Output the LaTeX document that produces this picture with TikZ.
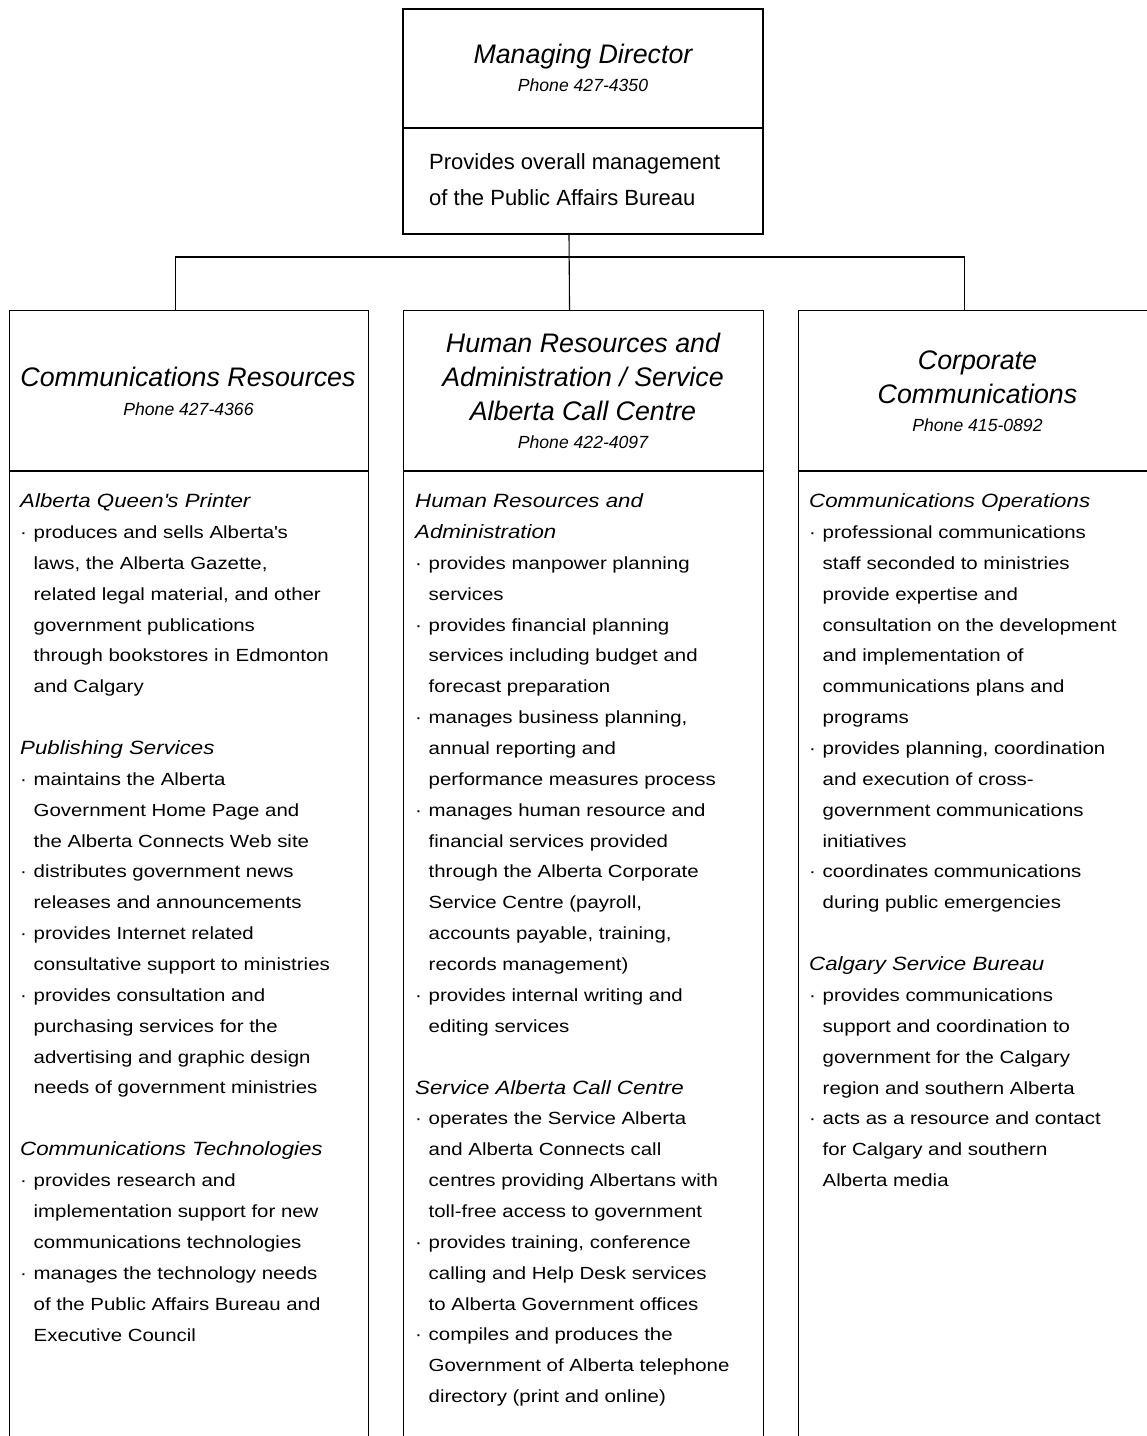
\documentclass[tikz,border=0pt]{standalone}
\usepackage{fontspec}
\setmainfont{Liberation Sans}
\newfontfamily\bodyfont{Liberation Sans}[FakeStretch=1.16]
\usepackage{tikz}

\newcommand{\bul}{\makebox[13.5pt][l]{\textperiodcentered}}
\newcommand{\ind}{\hspace*{13.5pt}}
\newcommand{\subhead}[1]{{\fontsize{19.2}{30.87}\selectfont\itshape #1}}

\begin{document}
\begin{tikzpicture}[x=1pt,y=-1pt,
  orgbox/.style={draw,line width=1.1pt,rectangle,inner sep=0pt},
  headtitle/.style={anchor=north,inner sep=0pt,align=center,font=\fontsize{26.8}{34.2}\selectfont\itshape},
  phoneline/.style={anchor=base,inner sep=0pt,font=\fontsize{17.6}{20}\selectfont\itshape},
  bodytext/.style={anchor=north west,inner sep=0pt,align=left,font=\bodyfont\fontsize{17.6}{30.87}\selectfont}]

  % Page and clipping
  \fill[white] (0,0) rectangle (1147,1436);
  \useasboundingbox (0,0) rectangle (1147,1436);
  \clip (0,0) rectangle (1147,1436);

  % Draw the top box
  \node[orgbox,minimum width=360,minimum height=225] (md) at (583,121.5) {};
  \coordinate (mdsplit) at (0,128);
  \draw[line width=1.1pt] (md.west |- mdsplit) -- (md.east |- mdsplit);

  \node[headtitle] (mdname) at (583,39.6) {\strut Managing Director};
  \node[phoneline] (mdphone) at (583,91.3) {Phone 427-4350};
  \node[anchor=north west,inner sep=0pt,align=left,font=\fontsize{22}{35.7}\selectfont] (mdtask) at (429,144.3)
    {\strut Provides overall management\\ of the Public Affairs Bureau};

  % Draw the three columns (open at the bottom)
  \node[orgbox,anchor=north west,minimum width=359,minimum height=1160] (comres) at (9,310) {};
  \node[orgbox,anchor=north west,minimum width=360,minimum height=1160] (hradm) at (403,310) {};
  \node[orgbox,anchor=north west,minimum width=359,minimum height=1160] (corcom) at (798,310) {};

  \coordinate (headsplit) at (0,471);
  \draw[line width=1.1pt] (comres.west |- headsplit) -- (comres.east |- headsplit);
  \draw[line width=1.1pt] (hradm.west |- headsplit) -- (hradm.east |- headsplit);
  \draw[line width=1.1pt] (corcom.west |- headsplit) -- (corcom.east |- headsplit);

  % Draw the connectors
  \coordinate (bus) at (569,257);
  \draw[line width=1.1pt] (md.south -| bus) -- ([xshift=-14pt]hradm.north);
  \draw[line width=1.1pt] ([xshift=-14pt]comres.north) |- (bus) -| ([xshift=-14pt]corcom.north);

  % Column headings
  \node[headtitle] (comrestitle) at (188,362.8) {\strut Communications Resources};
  \node[phoneline] (comresphone) at (188.5,415) {Phone 427-4366};

  \node[headtitle] (hradmtitle) at (583,328.4)
    {\strut Human Resources and\\ Administration / Service\\ Alberta Call Centre};
  \node[phoneline] (hradmphone) at (583,448.3) {Phone 422-4097};

  \node[headtitle] (corcomtitle) at (977.5,345.4) {\strut Corporate\\ Communications};
  \node[phoneline] (corcomphone) at (977.5,431.3) {Phone 415-0892};

  % Communications Resources
  \node[bodytext] (printer) at (20,485.7) {\strut\subhead{Alberta Queen\textquotesingle s Printer}\\
    \bul produces and sells Alberta\textquotesingle s\\
    \ind laws, the Alberta Gazette,\\
    \ind related legal material, and other\\
    \ind government publications\\
    \ind through bookstores in Edmonton\\
    \ind and Calgary};
  \node[bodytext] (publishing) at (20,732.6) {\strut\subhead{Publishing Services}\\
    \bul maintains the Alberta\\
    \ind Government Home Page and\\
    \ind the Alberta Connects Web site\\
    \bul distributes government news\\
    \ind releases and announcements\\
    \bul provides Internet related\\
    \ind consultative support to ministries\\
    \bul provides consultation and\\
    \ind purchasing services for the\\
    \ind advertising and graphic design\\
    \ind needs of government ministries};
  \node[bodytext] (technologies) at (20,1134) {\strut\subhead{Communications Technologies}\\
    \bul provides research and\\
    \ind implementation support for new\\
    \ind communications technologies\\
    \bul manages the technology needs\\
    \ind of the Public Affairs Bureau and\\
    \ind Executive Council};

  % Human Resources and Administration / Service Alberta Call Centre
  \node[bodytext] (hrservices) at (415,485.7) {\strut\subhead{Human Resources and}\\
    \subhead{Administration}\\
    \bul provides manpower planning\\
    \ind services\\
    \bul provides financial planning\\
    \ind services including budget and\\
    \ind forecast preparation\\
    \bul manages business planning,\\
    \ind annual reporting and\\
    \ind performance measures process\\
    \bul manages human resource and\\
    \ind financial services provided\\
    \ind through the Alberta Corporate\\
    \ind Service Centre (payroll,\\
    \ind accounts payable, training,\\
    \ind records management)\\
    \bul provides internal writing and\\
    \ind editing services};
  \node[bodytext] (callcentre) at (415,1072.2) {\strut\subhead{Service Alberta Call Centre}\\
    \bul operates the Service Alberta\\
    \ind and Alberta Connects call\\
    \ind centres providing Albertans with\\
    \ind toll-free access to government\\
    \bul provides training, conference\\
    \ind calling and Help Desk services\\
    \ind to Alberta Government offices\\
    \bul compiles and produces the\\
    \ind Government of Alberta telephone\\
    \ind directory (print and online)};

  % Corporate Communications
  \node[bodytext] (operations) at (809,485.7) {\strut\subhead{Communications Operations}\\
    \bul professional communications\\
    \ind staff seconded to ministries\\
    \ind provide expertise and\\
    \ind consultation on the development\\
    \ind and implementation of\\
    \ind communications plans and\\
    \ind programs\\
    \bul provides planning, coordination\\
    \ind and execution of cross-\\
    \ind government communications\\
    \ind initiatives\\
    \bul coordinates communications\\
    \ind during public emergencies};
  \node[bodytext] (calgary) at (809,948.7) {\strut\subhead{Calgary Service Bureau}\\
    \bul provides communications\\
    \ind support and coordination to\\
    \ind government for the Calgary\\
    \ind region and southern Alberta\\
    \bul acts as a resource and contact\\
    \ind for Calgary and southern\\
    \ind Alberta media};

\end{tikzpicture}
\end{document}
